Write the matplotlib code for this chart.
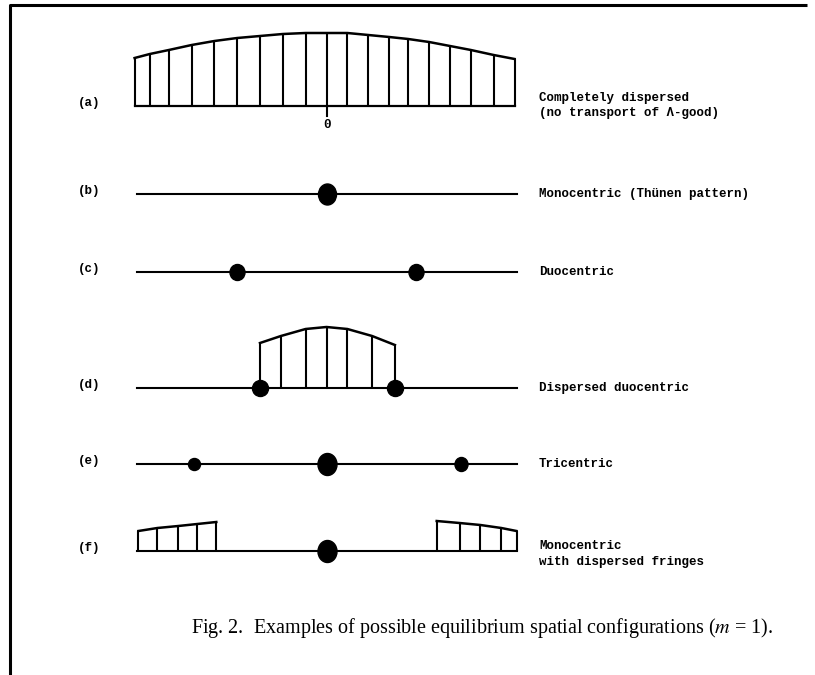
import numpy as np
import matplotlib.pyplot as plt
from matplotlib.path import Path
from matplotlib.transforms import Affine2D

W, H = 815, 675

# positions along each line: -1 = left end, 0 = centre, 1 = right end
# heights = density of the dispersed part (pixels above the line)
a_x = [-1.01, -0.93, -0.83, -0.71, -0.59, -0.47, -0.35, -0.23, -0.11, 0.0,
       0.11, 0.22, 0.33, 0.43, 0.54, 0.65, 0.76, 0.88, 0.99]
a_h = [48, 52, 56, 61, 65, 68, 70, 72, 73, 73, 73, 71, 69, 67, 64, 60, 56, 51, 47]

b_dots = [0.0]
c_dots = [-0.47, 0.47]

d_x = [-0.35, -0.24, -0.11, 0.0, 0.11, 0.24, 0.36]
d_h = [45, 52, 59, 61, 59, 52, 43]
d_dots = [-0.35, 0.36]

e_dots = [-0.70, 0.0, 0.71]

f_left_x = [-0.99, -0.89, -0.78, -0.68, -0.58]
f_left_h = [20, 23, 25, 27, 29]
f_right_x = [0.58, 0.70, 0.81, 0.92, 1.0]
f_right_h = [30, 28, 26, 23, 20]
f_dots = [0.0]

labels = ['(a)', '(b)', '(c)', '(d)', '(e)', '(f)']
descr = [['Completely dispersed', '(no transport of Λ-good)'],
         ['Monocentric (Thünen pattern)'],
         ['Duocentric'],
         ['Dispersed duocentric'],
         ['Tricentric'],
         ['Monocentric', 'with dispersed fringes']]
caption = 'Fig. 2.  Examples of possible equilibrium spatial configurations ($m$ = 1).'

# layout (pixels)
baselines = [106, 194, 272, 388, 464, 551]
x_left, x_right = 136.5, 516.5
mono = dict(family='Liberation Mono', weight='bold', size=9)

plt.rcParams['mathtext.fontset'] = 'stix'
fig = plt.figure(figsize=(W / 100, H / 100), dpi=100)

# page frame
frame = fig.add_axes([0, 0, 1, 1])
frame.set_xlim(0, W)
frame.set_ylim(H, 0)
frame.axis('off')
frame.plot([10, 10, 807], [H, 5, 5], color='black', lw=2.2, solid_capstyle='butt')


def row_axes(y):
    ax = fig.add_axes([x_left / W, (H - y) / H, (x_right - x_left) / W, 100 / H])
    ax.set_xlim(-1, 1)
    ax.set_ylim(0, 100)
    ax.axis('off')
    return ax


def dot_marker(w, h):
    return Path.unit_circle().transformed(Affine2D().scale(w / h, 1))


def dots(ax, xs, sizes):
    for x, (w, h) in zip(xs, sizes):
        ax.plot([x], [0], linestyle='none', marker=dot_marker(w, h),
                markersize=h * 0.72, color='black', clip_on=False, zorder=5)


def cap(ax, xs, hs):
    ax.plot(xs, hs, color='black', lw=1.8, clip_on=False)
    ax.vlines(xs, 0, hs, color='black', lw=1.5, clip_on=False)


axes = [row_axes(y) for y in baselines]

# (a)
ax = axes[0]
ax.plot([a_x[0], a_x[-1]], [0, 0], color='black', lw=1.6, clip_on=False)
cap(ax, a_x, a_h)
ax.plot([0, 0], [0, -10], color='black', lw=1.5, clip_on=False)
ax.text(0, -19, '0', ha='center', va='center', **mono)

# (b) .. (f) lines
for ax in axes[1:]:
    ax.plot([-1, 1], [0, 0], color='black', lw=1.5, clip_on=False)

dots(axes[1], b_dots, [(18, 21)])
dots(axes[2], c_dots, [(15, 16), (15, 16)])
cap(axes[3], d_x, d_h)
dots(axes[3], d_dots, [(16, 16), (16, 16)])
dots(axes[4], e_dots, [(12, 12), (19, 22), (13, 14)])
cap(axes[5], f_left_x, f_left_h)
cap(axes[5], f_right_x, f_right_h)
dots(axes[5], f_dots, [(19, 22)])

# labels and descriptions
for y, lab, lines in zip(baselines, labels, descr):
    fig.text(89 / W, 1 - (y - 3) / H, lab, ha='center', va='center', **mono)
    if len(lines) == 1:
        ys = [y]
    elif lab == '(a)':
        ys = [y - 8, y + 7]
    else:
        ys = [y - 5, y + 11]
    for t, ty in zip(lines, ys):
        fig.text(539 / W, 1 - ty / H, t, ha='left', va='center', **mono)

fig.text(482 / W, 1 - 628 / H, caption, ha='center', va='center',
         family='Liberation Serif', size=14.5)

fig.savefig('out.png', dpi=100)
